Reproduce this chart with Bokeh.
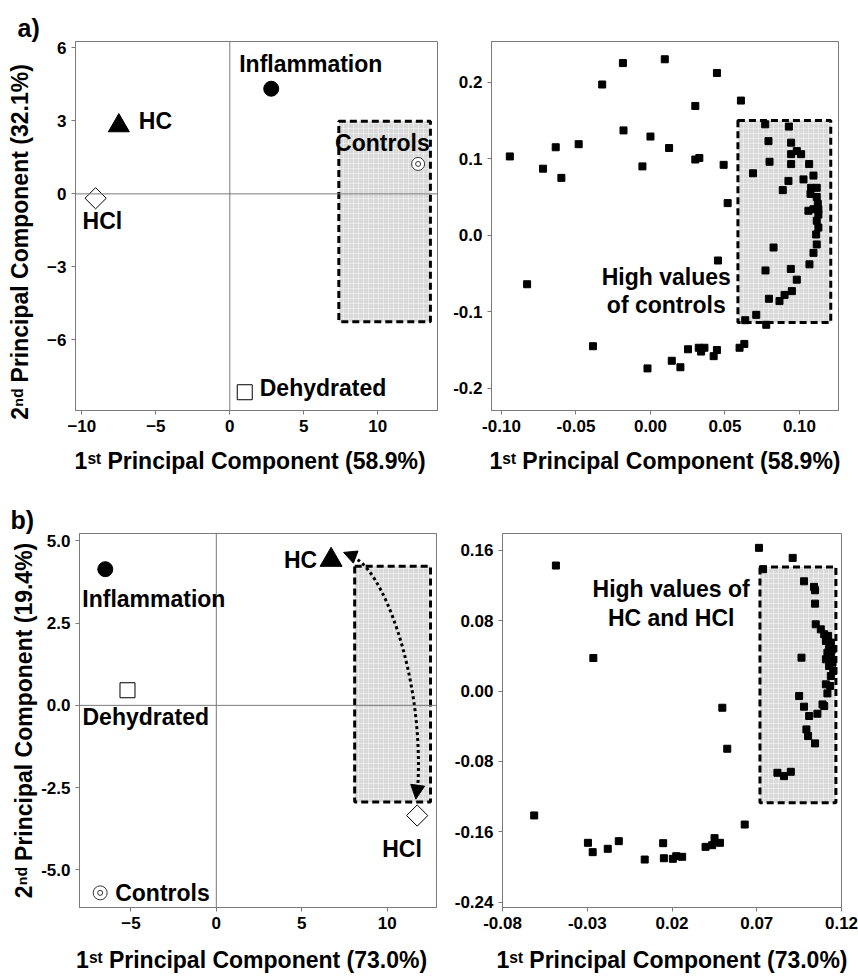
import math
from bokeh.plotting import figure
from bokeh.layouts import column, row
from bokeh.models import (Label, Span, FixedTicker, NumeralTickFormatter, Range1d,
                          Arrow, NormalHead)
from bokeh.embed import file_html
from bokeh.resources import INLINE

FONT = "Liberation Sans"
NB = "\u00a0"

# ---------------- data ----------------
# score plot a)  order: Inflammation, HC, HCl, Controls, Dehydrated
a_score_x = [2.8, -7.5, -9.07, 12.73, 1.01]
a_score_y = [4.32, 2.8, -0.18, 1.23, -8.15]
# score plot b)
b_score_x = [-6.5, 6.72, 11.76, -6.8, -5.2]
b_score_y = [4.14, 4.42, -3.35, -5.7, 0.46]

# loadings a)
a_load_x = [-0.0944, -0.0828, -0.0721, -0.0636, -0.0598, -0.0482, -0.0386, -0.0324, -0.0185,
            -0.0181, -0.0054, 0.0, -0.002, 0.0096, 0.0125, 0.0143, 0.0201, 0.0252, 0.0301,
            0.0301, 0.0328, 0.0324, 0.034, 0.0362, 0.0424, 0.0446, 0.0446, 0.0453, 0.0491,
            0.0518, 0.0607, 0.0598, 0.063, 0.0636, 0.071, 0.0777, 0.0688, 0.077, 0.0792,
            0.0799, 0.0826, 0.0772, 0.0795, 0.0866, 0.09, 0.0888, 0.0926, 0.0929, 0.0944,
            0.0944, 0.0944, 0.0982, 0.1011, 0.1027, 0.1065, 0.1094, 0.1078, 0.1116, 0.1074,
            0.1116, 0.1123, 0.1094, 0.1127, 0.1116, 0.1127, 0.1112, 0.1116, 0.1094, 0.1067,
            0.0942, 0.0982, 0.0949, 0.1127, 0.1060]
a_load_y = [0.103, -0.064, 0.087, 0.115, 0.075, 0.119, -0.145, 0.197, 0.225,
            0.137, 0.090, 0.129, -0.174, 0.230, 0.114, -0.164, -0.1725, -0.149, 0.169,
            0.099, 0.101, -0.147, -0.152, -0.147, -0.158, -0.150, 0.212, -0.033, 0.092,
            0.042, 0.176, -0.147, -0.142, -0.111, -0.104, -0.117, 0.081, 0.145, 0.123,
            0.096, -0.016, -0.046, -0.083, -0.086, -0.078, 0.059, 0.071, 0.142, 0.121,
            0.106, 0.093, 0.110, 0.106, 0.073, 0.093, 0.078, 0.062, 0.062, 0.054,
            0.050, 0.041, 0.034, 0.027, 0.019, 0.010, 0.001, -0.012, -0.023, -0.038,
            -0.044, -0.058, -0.073, 0.034, 0.032]

# loadings b)
b_load_x = [-0.0613, -0.0485, -0.0296, -0.0268, -0.0264, -0.0179, -0.0114, 0.0039, 0.0148,
            0.0152, 0.0205, 0.0225, 0.026, 0.0398, 0.0437, 0.0451, 0.0483, 0.0497, 0.0526,
            0.0629, 0.0713, 0.0912, 0.0737, 0.0979, 0.1038, 0.1044, 0.1044, 0.1048, 0.1078,
            0.1098, 0.1121, 0.1108, 0.1137, 0.1127, 0.1147, 0.1117, 0.1137, 0.1108, 0.1147,
            0.1127, 0.1151, 0.1137, 0.0964, 0.1108, 0.1133, 0.1117, 0.095, 0.0979, 0.1088,
            0.1098, 0.1058, 0.1009, 0.0993, 0.1003, 0.1044, 0.0822, 0.0861, 0.0901]
b_load_y = [-0.1414, 0.1426, -0.1725, -0.1831, 0.0375, -0.1793, -0.1706, -0.1915, -0.1729,
            -0.190, -0.1907, -0.1877, -0.1884, -0.1771, -0.1752, -0.1672, -0.1725, -0.019, -0.0656,
            -0.1517, 0.1627, 0.1513, 0.1384, 0.1247, 0.1183, 0.1145, 0.0993, 0.0758, 0.0701,
            0.0645, 0.0626, 0.0569, 0.055, 0.0493, 0.0474, 0.0436, 0.0398, 0.036, 0.0322,
            0.0284, 0.0227, 0.0171, 0.0379, 0.0076, 0.0057, -0.0027, -0.0057, -0.0178, -0.0152,
            -0.0171, -0.0258, -0.0284, -0.0436, -0.0512, -0.0595, -0.0929, -0.0967, -0.0918]

# highlighted regions (left, right, bottom, top)
a_score_box = [7.37, 13.56, -5.25, 2.98]
a_load_box = [0.0587, 0.121, -0.114, 0.15]
b_score_box = [8.1, 12.54, -2.94, 4.23]
b_load_box = [0.0719, 0.1167, -0.127, 0.141]

# ticks
a_score_xticks = [-10, -5, 0, 5, 10]
a_score_yticks = [-6, -3, 0, 3, 6]
a_load_xticks = [-0.10, -0.05, 0.0, 0.05, 0.10]
a_load_yticks = [-0.2, -0.1, 0.0, 0.1, 0.2]
b_score_xticks = [-5, 0, 5, 10]
b_score_yticks = [-5.0, -2.5, 0.0, 2.5, 5.0]
b_load_xticks = [-0.08, -0.03, 0.02, 0.07, 0.12]
b_load_yticks = [-0.24, -0.16, -0.08, 0.0, 0.08, 0.16]

x_label_a = "1\u02e2\u1d57 Principal Component (58.9%)"
y_label_a = "2\u207f\u1d48 Principal Component (32.1%)"
x_label_b = "1\u02e2\u1d57 Principal Component (73.0%)"
y_label_b = "2\u207f\u1d48 Principal Component (19.4%)"

GRAY = "#7a7a7a"


def make_fig(w, h, bl, br, bt, bb, xr, yr, xt, yt, xfmt=None, yfmt=None):
    p = figure(width=w, height=h, x_range=Range1d(*xr), y_range=Range1d(*yr),
               output_backend="svg", toolbar_location=None,
               min_border_left=bl, min_border_right=br, min_border_top=bt, min_border_bottom=bb)
    p.grid.visible = False
    p.outline_line_color = GRAY
    p.outline_line_width = 1
    p.background_fill_color = "white"
    p.border_fill_color = "white"
    for ax, ticks, fmt in ((p.xaxis[0], xt, xfmt), (p.yaxis[0], yt, yfmt)):
        ax.ticker = FixedTicker(ticks=ticks)
        if fmt:
            ax.formatter = NumeralTickFormatter(format=fmt)
        ax.axis_line_color = GRAY
        ax.major_tick_line_color = GRAY
        ax.minor_tick_line_color = None
        ax.major_tick_out = 4
        ax.major_tick_in = 0
        ax.major_label_standoff = 5
        ax.major_label_text_font = FONT
        ax.major_label_text_font_style = "bold"
        ax.major_label_text_font_size = "17px"
        ax.major_label_text_color = "black"
        ax.axis_label_text_font = FONT
        ax.axis_label_text_font_style = "bold"
        ax.axis_label_text_color = "black"
    return p


def set_labels(p, xl, xsize, xstand, yl=None, ysize="23px", ystand=0):
    p.xaxis[0].axis_label = xl
    p.xaxis[0].axis_label_text_font_size = xsize
    p.xaxis[0].axis_label_standoff = xstand
    if yl is not None:
        p.yaxis[0].axis_label = yl
        p.yaxis[0].axis_label_text_font_size = ysize
        p.yaxis[0].axis_label_standoff = ystand


def panel_tag(p, text, offset):
    p.title.text = text
    p.title.align = "left"
    p.title.offset = offset
    p.title.standoff = 0
    p.title.text_font = FONT
    p.title.text_font_style = "bold"
    p.title.text_font_size = "25px"
    p.title.text_color = "black"


def txt(p, x, y, text, dx=0, dy=0, align="left", size="23px", baseline="middle"):
    p.add_layout(Label(x=x, y=y, x_offset=dx, y_offset=dy,
                       text=text, text_font=FONT, text_font_style="bold",
                       text_font_size=size, text_align=align, text_baseline=baseline,
                       text_color="black"))


def region(p, box):
    p.quad(left=[box[0]], right=[box[1]], bottom=[box[2]], top=[box[3]],
           fill_color="#d9d9d9", line_color="black", line_width=3, line_dash="7 4",
           hatch_pattern="+", hatch_color="white", hatch_alpha=0.55, hatch_scale=5,
           hatch_weight=0.8)


def zero_lines(p):
    p.add_layout(Span(location=0, dimension="width", line_color=GRAY, line_width=1))
    p.add_layout(Span(location=0, dimension="height", line_color=GRAY, line_width=1))


def score_markers(p, xs, ys, tri_size, circ_size, ctrl_size):
    # Inflammation
    p.scatter([xs[0]], [ys[0]], marker="circle", size=circ_size, fill_color="black", line_color="black")
    # HC
    p.scatter([xs[1]], [ys[1]], marker="triangle", size=tri_size, fill_color="black", line_color="black")
    # HCl
    p.scatter([xs[2]], [ys[2]], marker="square", angle=math.pi / 4, size=15,
              fill_color="white", line_color="black", line_width=1)
    # Controls
    p.scatter([xs[3]], [ys[3]], marker="circle", size=ctrl_size, fill_color="white",
              line_color="#333333", line_width=1)
    p.scatter([xs[3]], [ys[3]], marker="circle", size=5, fill_color="white",
              line_color="#333333", line_width=1)
    # Dehydrated
    p.scatter([xs[4]], [ys[4]], marker="square", size=15, fill_color="white",
              line_color="black", line_width=1)


# ---------------- panel a, scores ----------------
p1 = make_fig(450, 480, 75, 13, 41, 70, (-10.43, 14.04), (-8.9, 6.26),
              a_score_xticks, a_score_yticks)
region(p1, a_score_box)
zero_lines(p1)
score_markers(p1, a_score_x, a_score_y, 21, 15, 13)
txt(p1, a_score_x[0], a_score_y[0], "Inflammation", dx=-32, dy=25)
txt(p1, a_score_x[1], a_score_y[1], "HC", dx=20, dy=5)
txt(p1, a_score_x[2], a_score_y[2], "HCl", dx=-13, dy=-23)
txt(p1, a_score_x[3], a_score_y[3], "Controls", dx=-83, dy=21)
txt(p1, a_score_x[4], a_score_y[4], "Dehydrated", dx=15, dy=4)
panel_tag(p1, "a)", -58)
set_labels(p1, x_label_a + NB * 2, "23px", 13, y_label_a + NB * 5, "23px", 11)

# ---------------- panel a, loadings ----------------
p2 = make_fig(408, 480, 41, 20, 41, 70, (-0.1067, 0.1262), (-0.229, 0.2532),
              a_load_xticks, a_load_yticks, "0.00", "0.0")
region(p2, a_load_box)
p2.scatter(a_load_x, a_load_y, marker="square", size=7, fill_color="black", line_color="black")
txt(p2, 0.0106, -0.0545, "High values", align="center")
txt(p2, 0.0106, -0.0911, "of controls", align="center")
set_labels(p2, x_label_a, "23px", 13)

# ---------------- panel b, scores ----------------
p3 = make_fig(450, 497, 79, 14, 53, 70, (-8.01, 12.89), (-6.145, 5.225),
              b_score_xticks, b_score_yticks, None, "0.0")
region(p3, b_score_box)
zero_lines(p3)
p3.bezier(x0=[7.95], y0=[4.5], x1=[11.8], y1=[-2.45], cx0=[9.6], cy0=[4.3],
          cx1=[12.15], cy1=[1.0], line_color="black", line_width=3, line_dash="3 3")
p3.add_layout(Arrow(end=NormalHead(size=13, fill_color="black", line_color="black"),
                    x_start=7.95, y_start=4.55, x_end=7.45, y_end=4.65,
                    line_alpha=0, line_width=0))
p3.add_layout(Arrow(end=NormalHead(size=14, fill_color="black", line_color="black"),
                    x_start=11.82, y_start=-2.3, x_end=11.68, y_end=-2.85,
                    line_alpha=0, line_width=0))
score_markers(p3, b_score_x, b_score_y, 22, 15, 14)
txt(p3, b_score_x[0], b_score_y[0], "Inflammation", dx=-23, dy=-30)
txt(p3, b_score_x[1], b_score_y[1], "HC", dx=-14, dy=0, align="right")
txt(p3, b_score_x[2], b_score_y[2], "HCl", dx=-35, dy=-33)
txt(p3, b_score_x[3], b_score_y[3], "Controls", dx=15, dy=0)
txt(p3, b_score_x[4], b_score_y[4], "Dehydrated", dx=-45, dy=-27)
panel_tag(p3, "b)", -69)
set_labels(p3, x_label_b + NB * 2, "23px", 15, y_label_b, "23px", 1)

# ---------------- panel b, loadings ----------------
p4 = make_fig(408, 497, 52, 17, 53, 70, (-0.08, 0.12), (-0.246, 0.179),
              b_load_xticks, b_load_yticks, "0.00", "0.00")
region(p4, b_load_box)
p4.scatter(b_load_x, b_load_y, marker="square", size=7, fill_color="black", line_color="black")
txt(p4, 0.0195, 0.116, "High values of", align="center")
txt(p4, 0.0195, 0.0834, "HC and HCl", align="center")
set_labels(p4, x_label_b, "23px", 15)

layout = column(row(p1, p2), row(p3, p4))
open("out.html", "w").write(file_html(layout, INLINE))
